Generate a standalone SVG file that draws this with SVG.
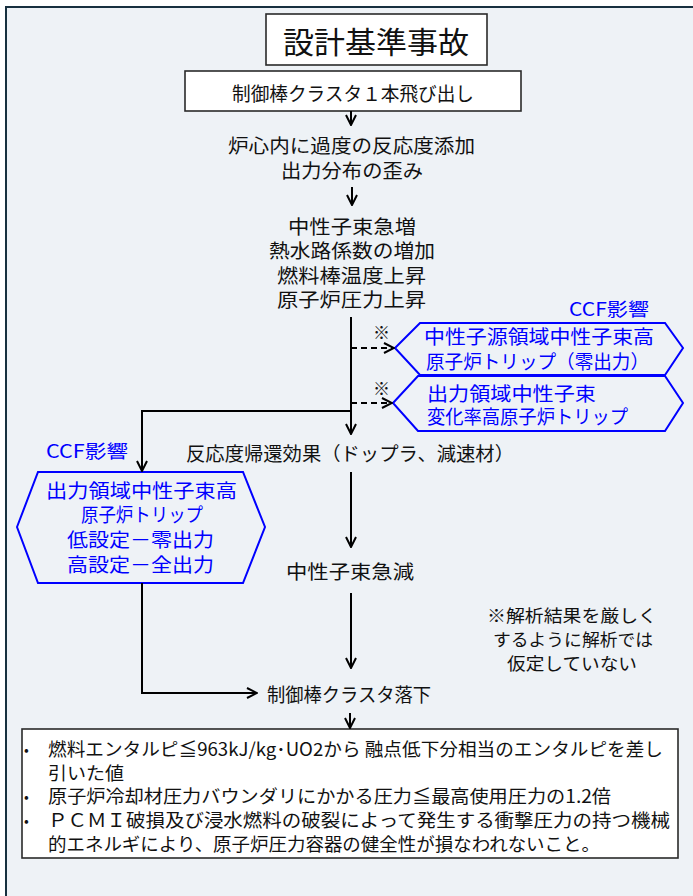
<svg xmlns="http://www.w3.org/2000/svg" width="693" height="896" viewBox="0 0 693 896">
<style>
text{font-family:"Noto Sans CJK JP","Noto Sans",sans-serif;fill:#111;font-size:19px}
.b{fill:#0000ff}
.s{font-size:18px}
.n{font-size:17.5px}
.box{fill:#fff;stroke:#2a2a2a;stroke-width:1.6}
.hex{fill:none;stroke:#0000ff;stroke-width:2}
.ln{fill:none;stroke:#000;stroke-width:2}
.dash{stroke-dasharray:6 4}
</style>
<defs>
<marker id="ah" viewBox="-11 -6 12 12" refX="0" refY="0" markerWidth="12" markerHeight="12" markerUnits="userSpaceOnUse" orient="auto">
<path d="M-10,-5 L0,0 L-10,5" fill="none" stroke="#000" stroke-width="2"/>
</marker>
</defs>
<rect x="0" y="0" width="693" height="896" fill="#fff"/>
<rect x="6" y="7" width="700" height="900" fill="#eef2f6" stroke="#17303f" stroke-width="2"/>

<g id="title">
<rect class="box" x="266" y="14" width="221" height="51"/>
<text x="283" y="53" style="font-size:30px" textLength="186" lengthAdjust="spacingAndGlyphs">設計基準事故</text>
</g>
<g id="ejection">
<rect class="box" x="185" y="71" width="336" height="40"/>
<text x="232" y="101" textLength="242" lengthAdjust="spacingAndGlyphs">制御棒クラスタ１本飛び出し</text>
</g>
<g id="reactivity">
<text x="228" y="153" textLength="247" lengthAdjust="spacingAndGlyphs">炉心内に過度の反応度添加</text>
<text x="281" y="178" textLength="142" lengthAdjust="spacingAndGlyphs">出力分布の歪み</text>
</g>
<g id="flux-increase">
<text x="288" y="234" textLength="128" lengthAdjust="spacingAndGlyphs">中性子束急増</text>
<text x="269" y="258" textLength="166" lengthAdjust="spacingAndGlyphs">熱水路係数の増加</text>
<text x="277" y="283" textLength="149" lengthAdjust="spacingAndGlyphs">燃料棒温度上昇</text>
<text x="277" y="307" textLength="149" lengthAdjust="spacingAndGlyphs">原子炉圧力上昇</text>
</g>
<g id="ccf-right-label">
<text class="b" x="569" y="316" style="font-size:18.5px" textLength="80" lengthAdjust="spacingAndGlyphs">CCF影響</text>
</g>
<g id="source-range-trip">
<polygon class="hex" points="395,348 420,323 665,323 683,348 665,375 420,375"/>
<text class="b" x="424" y="344" textLength="230" lengthAdjust="spacingAndGlyphs">中性子源領域中性子束高</text>
<text class="b" x="426" y="369" textLength="223" lengthAdjust="spacingAndGlyphs">原子炉トリップ（零出力）</text>
</g>
<g id="rate-trip">
<polygon class="hex" points="393,403 418,376 665,376 683,403 665,431 418,431"/>
<text class="b" x="427" y="401" textLength="169" lengthAdjust="spacingAndGlyphs">出力領域中性子束</text>
<text class="b" x="427" y="424" textLength="201" lengthAdjust="spacingAndGlyphs">変化率高原子炉トリップ</text>
</g>
<g id="notes-mark">
<text x="373" y="339" style="font-size:17px">※</text>
<text x="373" y="395" style="font-size:17px">※</text>
</g>
<g id="feedback">
<text x="186" y="461" textLength="328" lengthAdjust="spacingAndGlyphs">反応度帰還効果（ドップラ、減速材）</text>
</g>
<g id="ccf-left-label">
<text class="b" x="46" y="458" style="font-size:18.5px" textLength="82" lengthAdjust="spacingAndGlyphs">CCF影響</text>
</g>
<g id="power-range-trip">
<polygon class="hex" points="17,527 38,472 243,472 265,527 243,583 38,583"/>
<text class="b" x="46" y="498" textLength="191" lengthAdjust="spacingAndGlyphs">出力領域中性子束高</text>
<text class="b" x="81" y="522" textLength="122" lengthAdjust="spacingAndGlyphs">原子炉トリップ</text>
<text class="b" x="67" y="547" textLength="147" lengthAdjust="spacingAndGlyphs">低設定－零出力</text>
<text class="b" x="67" y="572" textLength="147" lengthAdjust="spacingAndGlyphs">高設定－全出力</text>
</g>
<g id="flux-decrease">
<text x="286" y="579" textLength="128" lengthAdjust="spacingAndGlyphs">中性子束急減</text>
</g>
<g id="note">
<text class="n" x="487" y="622" textLength="170" lengthAdjust="spacingAndGlyphs">※解析結果を厳しく</text>
<text class="n" x="493" y="646" textLength="160" lengthAdjust="spacingAndGlyphs">するように解析では</text>
<text class="n" x="507" y="670" textLength="130" lengthAdjust="spacingAndGlyphs">仮定していない</text>
</g>
<g id="rod-drop">
<text x="267" y="702" textLength="164" lengthAdjust="spacingAndGlyphs">制御棒クラスタ落下</text>
</g>
<g id="criteria">
<rect class="box" x="22" y="729" width="656" height="129"/>
<text x="24" y="755" style="font-size:14px">•</text>
<text class="s" x="48" y="756" textLength="615" lengthAdjust="spacingAndGlyphs">燃料エンタルピ≦963kJ/kg･UO2から 融点低下分相当のエンタルピを差し</text>
<text class="s" x="48" y="780" textLength="76" lengthAdjust="spacingAndGlyphs">引いた値</text>
<text x="24" y="802" style="font-size:14px">•</text>
<text class="s" x="48" y="803" textLength="563" lengthAdjust="spacingAndGlyphs">原子炉冷却材圧力バウンダリにかかる圧力≦最高使用圧力の1.2倍</text>
<text x="24" y="826" style="font-size:14px">•</text>
<text class="s" x="48" y="827" textLength="622" lengthAdjust="spacingAndGlyphs">ＰＣＭＩ破損及び浸水燃料の破裂によって発生する衝撃圧力の持つ機械</text>
<text class="s" x="48" y="851" textLength="552" lengthAdjust="spacingAndGlyphs">的エネルギにより、原子炉圧力容器の健全性が損なわれないこと。</text>
</g>

<g id="connectors">
<line class="ln" x1="351" y1="111" x2="351" y2="125" marker-end="url(#ah)"/>
<line class="ln" x1="352" y1="187" x2="352" y2="205" marker-end="url(#ah)"/>
<line class="ln" x1="351" y1="317" x2="351" y2="434" marker-end="url(#ah)"/>
<line class="ln dash" x1="351" y1="348" x2="394" y2="348" marker-end="url(#ah)"/>
<line class="ln dash" x1="351" y1="403" x2="392" y2="403" marker-end="url(#ah)"/>
<polyline class="ln" points="351,411 142,411 142,471" marker-end="url(#ah)"/>
<line class="ln" x1="351" y1="472" x2="351" y2="547" marker-end="url(#ah)"/>
<line class="ln" x1="351" y1="593" x2="351" y2="668" marker-end="url(#ah)"/>
<polyline class="ln" points="142,583 142,693 257,693" marker-end="url(#ah)"/>
<line class="ln" x1="350" y1="713" x2="350" y2="728" marker-end="url(#ah)"/>
</g>
</svg>
